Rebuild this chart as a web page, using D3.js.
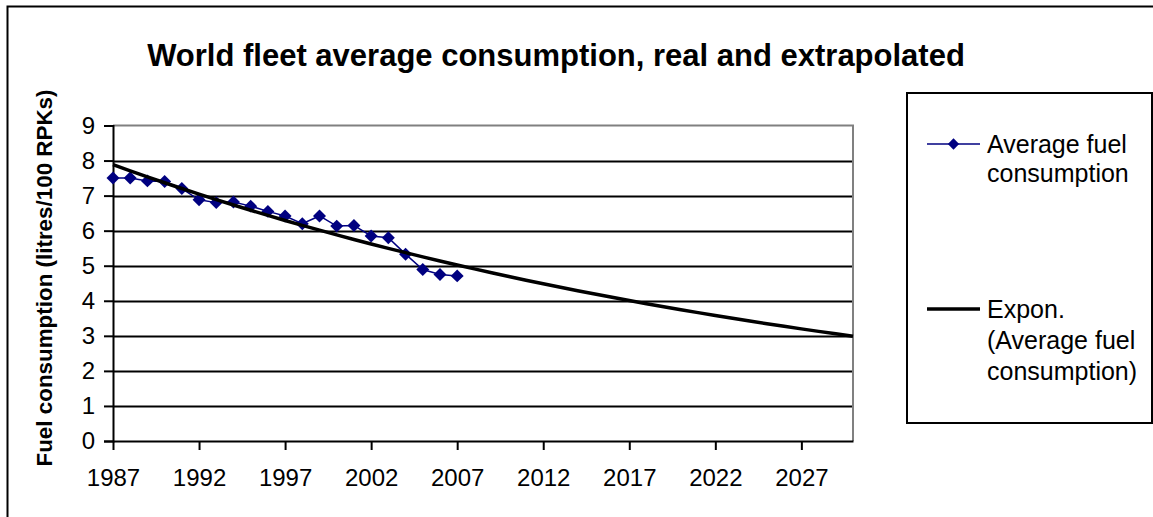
<!DOCTYPE html>
<html>
<head>
<meta charset="utf-8">
<script src="https://cdn.jsdelivr.net/npm/d3@7"></script>
<style>
  html, body { margin: 0; padding: 0; background: #fff; }
  svg { display: block; font-family: "Liberation Sans", Arial, sans-serif; }
</style>
</head>
<body>
<svg id="chart" width="1153" height="517"></svg>
<script>
// Observed world fleet average fuel consumption (litres per 100 RPKs)
const years = [1987, 1988, 1989, 1990, 1991, 1992, 1993, 1994, 1995, 1996, 1997,
               1998, 1999, 2000, 2001, 2002, 2003, 2004, 2005, 2006, 2007];
const consumption = [7.50, 7.50, 7.42, 7.40, 7.20, 6.88, 6.80, 6.82, 6.70, 6.55, 6.42,
                     6.20, 6.42, 6.13, 6.15, 5.85, 5.80, 5.33, 4.89, 4.75, 4.71];

// Axis ticks
const xTicks = [1987, 1992, 1997, 2002, 2007, 2012, 2017, 2022, 2027];
const yTicks = [0, 1, 2, 3, 4, 5, 6, 7, 8, 9];
const xDomain = [1987, 2030];
const yDomain = [0, 9];

const titleText = "World fleet average consumption, real and extrapolated";
const yLabelText = "Fuel consumption (litres/100 RPKs)";
const seriesName = ["Average fuel", "consumption"];
const trendName = ["Expon.", "(Average fuel", "consumption)"];

// Exponential least-squares fit on ln(y), with x as the point index
const n = consumption.length;
const lnY = consumption.map(Math.log);
const xs = d3.range(n);
const mx = d3.mean(xs), my = d3.mean(lnY);
const slope = d3.sum(xs, (x, i) => (x - mx) * (lnY[i] - my)) / d3.sum(xs, x => (x - mx) ** 2);
const intercept = my - slope * mx;
const trendYears = d3.range(xDomain[0], xDomain[1] + 1);
const trend = trendYears.map(yr => ({ year: yr, value: Math.exp(intercept + slope * (yr - years[0])) }));

const svg = d3.select("#chart");
const font = "Liberation Sans, Arial, sans-serif";

// Outer chart frame
svg.append("rect")
  .attr("x", 7.5).attr("y", 6.5)
  .attr("width", 1200).attr("height", 600)
  .attr("fill", "#fff").attr("stroke", "#000").attr("stroke-width", 2);

const plot = { left: 113, right: 853, top: 125.5, bottom: 441 };
const x = d3.scaleLinear().domain(xDomain).range([plot.left, plot.right]);
const y = d3.scaleLinear().domain(yDomain).range([plot.bottom, plot.top]);

// Title
svg.append("text")
  .attr("x", 556).attr("y", 66)
  .attr("text-anchor", "middle")
  .attr("font-weight", "bold").attr("font-size", 31)
  .text(titleText);

// Horizontal gridlines
svg.append("g")
  .selectAll("line")
  .data(yTicks.filter(v => v > 0 && v < 9))
  .join("line")
  .attr("x1", plot.left).attr("x2", plot.right)
  .attr("y1", d => Math.round(y(d)) + 0.5).attr("y2", d => Math.round(y(d)) + 0.5)
  .attr("stroke", "#000").attr("stroke-width", 2);

// Plot area border (top and right)
svg.append("path")
  .attr("d", `M${plot.left},${y(9)}H${plot.right}V${plot.bottom}`)
  .attr("fill", "none").attr("stroke", "#808080").attr("stroke-width", 2);

// Y axis
const yAxis = svg.append("g")
  .attr("transform", `translate(${plot.left},0)`)
  .call(d3.axisLeft(y).tickValues(yTicks).tickFormat(d3.format("d")).tickSize(9).tickPadding(9));
yAxis.select(".domain").attr("stroke-width", 2);
yAxis.selectAll(".tick line").attr("stroke-width", 2);
yAxis.selectAll("text").attr("font-size", 24).attr("font-family", font).attr("fill", "#000");

// X axis
const xAxis = svg.append("g")
  .attr("transform", `translate(0,${plot.bottom})`)
  .call(d3.axisBottom(x).tickValues(xTicks).tickFormat(d3.format("d")).tickSize(9).tickSizeOuter(0).tickPadding(19));
xAxis.select(".domain").attr("stroke-width", 2);
xAxis.selectAll(".tick line").attr("stroke-width", 2);
xAxis.selectAll("text").attr("font-size", 24).attr("font-family", font).attr("fill", "#000");

// Y axis title
svg.append("text")
  .attr("transform", `translate(52,278) rotate(-90)`)
  .attr("text-anchor", "middle")
  .attr("font-weight", "bold").attr("font-size", 22.4)
  .text(yLabelText);

// Observed series
const line = d3.line().x(d => x(d[0])).y(d => y(d[1]));
const pts = years.map((yr, i) => [yr, consumption[i]]);
svg.append("path")
  .datum(pts)
  .attr("d", line)
  .attr("fill", "none").attr("stroke", "#000080").attr("stroke-width", 1.5);

svg.append("g")
  .selectAll("path")
  .data(pts)
  .join("path")
  .attr("d", d3.symbol().type(d3.symbolSquare).size(84)())
  .attr("transform", d => `translate(${x(d[0])},${y(d[1])}) rotate(45)`)
  .attr("fill", "#000080");

// Exponential trend line
svg.append("path")
  .datum(trend)
  .attr("d", d3.line().x(d => x(d.year)).y(d => y(d.value)))
  .attr("fill", "none").attr("stroke", "#000").attr("stroke-width", 3.5);

// Legend
const lg = svg.append("g");
lg.append("rect")
  .attr("x", 907).attr("y", 93).attr("width", 245).attr("height", 330)
  .attr("fill", "#fff").attr("stroke", "#000").attr("stroke-width", 2);

lg.append("line")
  .attr("x1", 927).attr("x2", 980).attr("y1", 144).attr("y2", 144)
  .attr("stroke", "#000080").attr("stroke-width", 1.5);
lg.append("path")
  .attr("transform", "translate(953.5,144) rotate(45)")
  .attr("d", d3.symbol().type(d3.symbolSquare).size(64)())
  .attr("fill", "#000080");
lg.append("text")
  .attr("font-size", 25)
  .selectAll("tspan").data(seriesName).join("tspan")
  .attr("x", 987).attr("y", (d, i) => 153 + i * 29)
  .text(d => d);

lg.append("line")
  .attr("x1", 927).attr("x2", 980).attr("y1", 309).attr("y2", 309)
  .attr("stroke", "#000").attr("stroke-width", 3.5);
lg.append("text")
  .attr("font-size", 25)
  .selectAll("tspan").data(trendName).join("tspan")
  .attr("x", 987).attr("y", (d, i) => 318 + i * 31)
  .text(d => d);
</script>
</body>
</html>
